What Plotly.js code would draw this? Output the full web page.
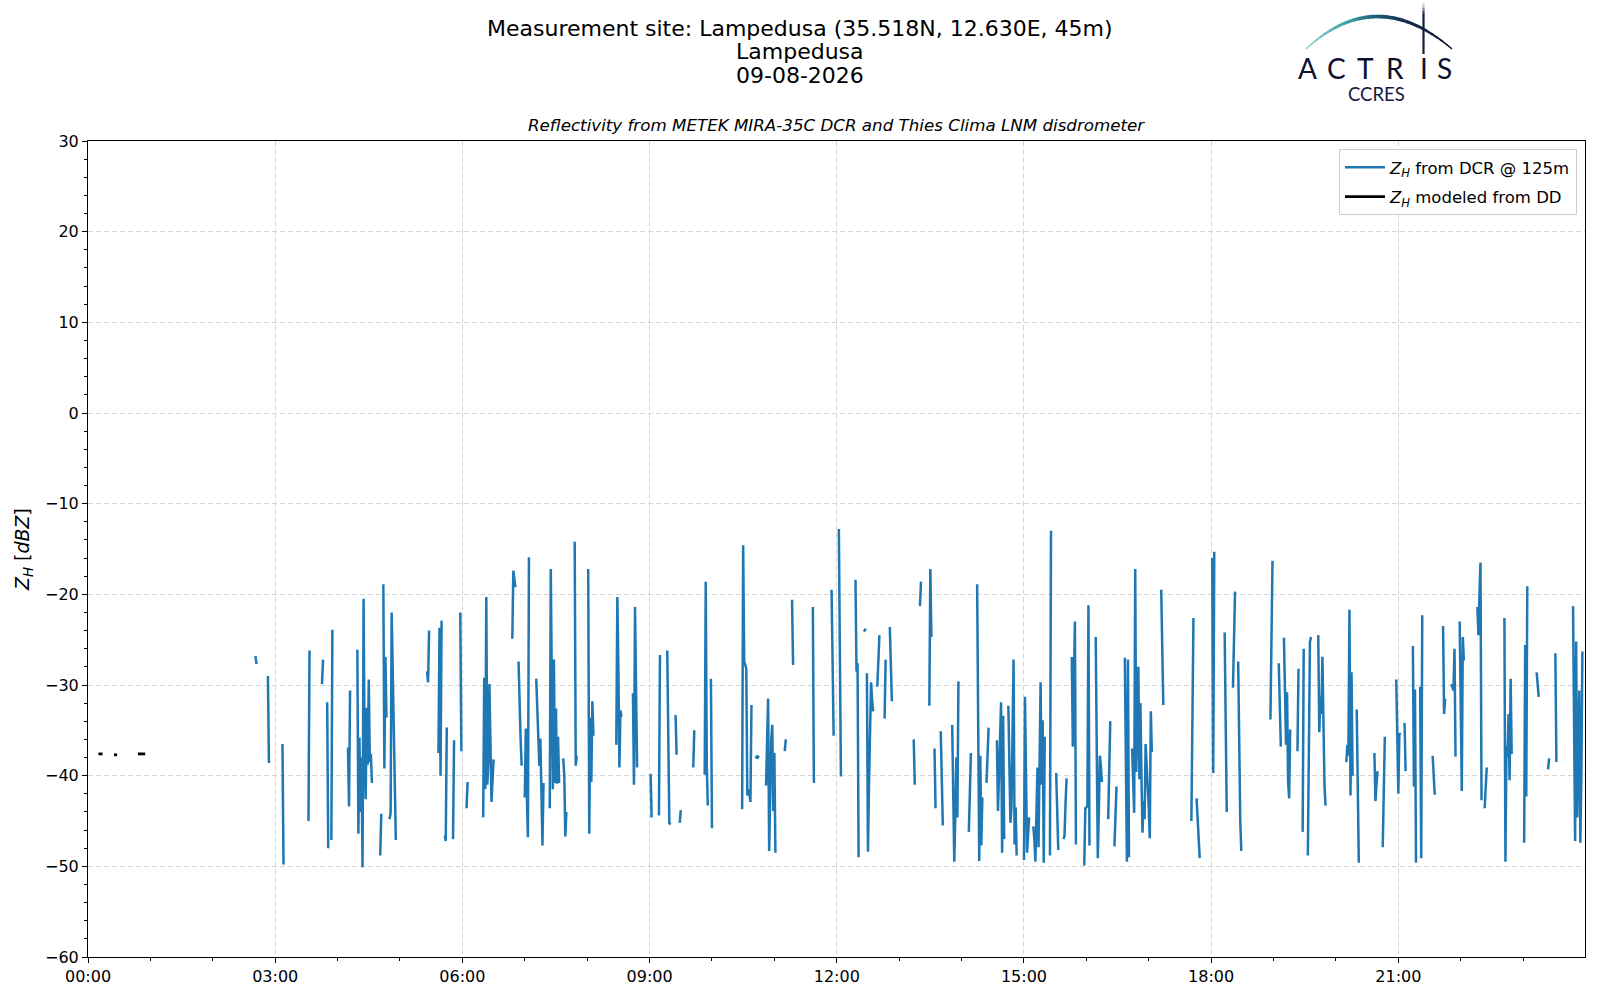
<!DOCTYPE html>
<html>
<head>
<meta charset="utf-8">
<script src="https://cdn.plot.ly/plotly-3.0.1.min.js"></script>
<style>
  html, body { margin: 0; padding: 0; background: #fff; }
  #chart { width: 1600px; height: 1000px; }
</style>
</head>
<body>
<div id="chart"></div>
<script>
// day of the measurements
var day = '2026-08-09';

// Z_H from the cloud radar at 125 m: each run starts at a minute of the day
var dcrStart = [161, 173, 187, 212, 225, 230, 234, 250, 259, 281, 284, 290,
  326, 337, 343, 351, 358, 364, 380, 408, 414, 420, 431, 444, 457, 468, 481,
  508, 524, 541, 549, 557, 565, 569, 582, 593, 599, 629, 642,
  652, 670, 677, 697, 715, 722, 738, 746, 749, 759, 766, 771, 794, 800, 809,
  814, 820, 831, 847, 855, 864, 874, 885, 900, 909, 925, 931, 938, 946, 958, 969,
  981, 987, 997, 1004, 1032, 1061, 1066, 1081, 1093, 1101, 1106,
  1137, 1145, 1150, 1163, 1168, 1173, 1183, 1210, 1220, 1237, 1245, 1258, 1266, 1274, 1281, 1293,
  1303, 1311, 1319, 1336, 1343, 1362, 1381, 1393, 1404, 1411, 1428];

// one value per minute for each run [dBZ]
var dcrZ = [
  [-26.8, -27.7],
  [-29.0, -38.6],
  [-36.5, -49.8],
  [-45.0, -26.2],
  [-29.9, -27.2],
  [-31.9, -48.0],
  [-47.1, -23.9],
  [-36.9, -43.4, -30.6],
  [-26.1, -46.4, -35.8, -44.0, -38.0, -50.1, -20.5, -38.0, -42.6, -32.5, -38.8, -29.4, -38.5, -37.6, -40.8],
  [-48.8, -44.2],
  [-18.9, -39.2, -26.9, -33.6],
  [-44.8, -44.1, -22.0, -28.0, -33.2, -40.0, -47.1],
  [-28.5, -29.7, -24.0],
  [-37.5, -23.7, -40.0, -22.9],
  [-46.6, -47.2, -34.7],
  [-47.0, -36.1],
  [-22.0, -37.3],
  [-43.6, -40.7],
  [-44.6, -29.2, -41.5, -20.3, -41.0, -38.2, -29.9, -38.2, -42.9, -40.5, -38.2],
  [-24.9, -17.4, -18.3, -19.2],
  [-27.4, -33.6, -36.0, -38.9],
  [-42.4, -34.8, -42.2, -46.8, -15.9],
  [-29.3, -33.0, -36.0, -38.9, -35.9, -42.0, -47.7, -40.8],
  [-43.6, -17.2, -30.0, -41.5, -27.2, -40.8, -32.6, -40.9, -35.7, -40.8],
  [-38.1, -40.0, -46.7, -44.0],
  [-14.2, -38.9, -37.8],
  [-17.2, -46.4, -33.6, -40.7, -31.8, -35.6],
  [-36.6, -20.3, -28.0, -39.1, -32.8, -33.5],
  [-30.9, -41.0, -21.4, -35.0, -39.1],
  [-39.8, -44.6],
  [-44.4, -26.7],
  [-26.2, -36.0, -45.2, -45.4],
  [-33.3, -37.7],
  [-45.2, -43.8],
  [-39.1, -35.0],
  [-39.9, -18.6, -38.9, -43.3],
  [-29.3, -45.8],
  [-43.7, -14.6, -27.4, -27.8, -28.2, -42.2, -41.5, -42.0, -42.9, -32.2],
  [-38.1, -37.9, -38.0, -37.8],
  [-41.1, -36.0, -31.5, -48.3, -38.9, -36.0, -34.4, -43.9, -37.5, -48.5],
  [-37.3, -36.0],
  [-20.6, -27.8],
  [-21.4, -40.8],
  [-19.5, -27.0, -35.6],
  [-12.8, -26.0, -40.1],
  [-18.4, -28.5, -27.6, -49.0],
  [-24.1, -23.9, -23.8],
  [-28.7, -48.4, -41.0, -35.5, -29.7, -31.6, -32.9],
  [-30.2, -27.0, -24.5],
  [-33.7, -27.2],
  [-23.6, -27.5, -31.8],
  [-36.0, -41.0],
  [-21.3, -18.6],
  [-32.3, -17.2, -24.7],
  [-37.0, -43.6],
  [-35.1, -40.0, -45.5],
  [-34.4, -42.0, -49.5, -44.4, -38.0, -44.6, -29.6],
  [-46.2, -42.0, -37.5],
  [-18.9, -40.0, -49.4, -37.8, -47.7, -42.4],
  [-40.8, -37.0, -34.7],
  [-36.1, -43.9, -40.0, -36.0, -31.9, -48.5, -33.4, -47.0],
  [-32.3, -40.0, -45.2, -43.5, -35.0, -27.2, -47.6, -43.5, -48.8],
  [-49.3, -31.3, -40.0, -48.5, -46.5, -44.6],
  [-45.6, -47.0, -49.5, -44.0, -39.1, -47.9, -38.0, -29.7, -41.0, -33.9, -49.6, -35.7],
  [-48.8, -13.0],
  [-39.7, -44.0, -48.2],
  [-47.0, -46.6, -43.0, -40.3],
  [-26.9, -36.8, -30.0, -23.0, -47.6],
  [-49.9, -43.6, -43.5, -43.3, -21.2, -47.7],
  [-24.7, -36.0, -49.1, -44.0, -37.8, -39.0, -40.7],
  [-44.8, -39.0, -34.0],
  [-47.8, -44.5, -41.2],
  [-27.0, -36.0, -49.5, -27.2, -49.0],
  [-37.0, -40.5, -44.1, -17.2, -39.6, -34.0, -28.0, -40.4, -32.0, -40.0, -46.3, -42.8, -44.8, -36.5, -38.5, -40.7, -43.5, -46.9, -32.9, -37.4],
  [-19.5, -26.0, -32.2],
  [-45.0, -34.0, -22.6],
  [-42.5, -45.0, -47.0, -49.1],
  [-16.0, -39.7, -15.3],
  [-24.2, -34.0, -44.0],
  [-30.3, -26.0, -19.7],
  [-27.4, -37.0, -45.0, -48.3],
  [-33.8, -25.0, -16.3],
  [-27.6, -32.0, -36.8],
  [-24.8, -30.0, -36.6, -30.8, -40.6, -42.5, -34.9],
  [-37.3, -28.2],
  [-46.2, -26.0],
  [-48.8, -37.0, -25.3, -24.7],
  [-24.5, -35.2, -31.3, -33.2, -26.9, -35.0, -41.1, -43.3],
  [-38.5, -36.6, -37.8, -21.7, -42.2, -28.6, -40.0],
  [-32.7, -41.0, -49.6],
  [-37.5, -42.8, -41.0, -39.5],
  [-47.9, -42.0, -35.7],
  [-29.4, -36.0, -42.0, -35.3, -35.5],
  [-34.2, -39.5],
  [-25.7, -41.2, -30.5, -49.6],
  [-30.2, -49.1, -22.3],
  [-37.8, -40.0, -42.1],
  [-23.5, -33.2, -31.5],
  [-29.9, -30.3, -30.6, -26.0, -37.9],
  [-23.0, -32.0, -41.7, -24.7, -27.3],
  [-21.4, -24.5, -20.0, -16.5, -42.7],
  [-43.6, -41.0, -39.1],
  [-22.6, -49.5, -36.7, -37.9, -33.2, -40.5, -29.3, -37.6],
  [-47.4, -25.6, -42.3, -19.1],
  [-28.6, -30.0, -31.3],
  [-39.3, -38.1],
  [-26.5, -38.5],
  [-21.3, -40.0, -47.2, -25.2, -44.6, -38.0, -30.6, -47.4, -40.0, -26.3]
];

// Z_H modeled from the disdrometer drop size distribution
var ddStart = [10, 25, 48];
var ddZ = [
  [-37.6, -37.6, -37.6, -37.6, -37.6],
  [-37.7, -37.7, -37.7, -37.7],
  [-37.6, -37.6, -37.6, -37.6, -37.6, -37.6, -37.6, -37.6]
];

var tickHours = [0, 3, 6, 9, 12, 15, 18, 21];

function pad(n) { return (n < 10 ? '0' : '') + n; }
function minToDate(m) {
  return day + ' ' + pad(Math.floor(m / 60)) + ':' + pad(m % 60);
}

// turn the runs into one line with gaps between them
function buildSeries(starts, vals) {
  var x = [], y = [];
  for (var i = 0; i < starts.length; i++) {
    for (var j = 0; j < vals[i].length; j++) {
      x.push(minToDate(starts[i] + j));
      y.push(vals[i][j]);
    }
    x.push(minToDate(starts[i] + vals[i].length));
    y.push(null);
  }
  return { x: x, y: y };
}

var dcr = buildSeries(dcrStart, dcrZ);
var dd = buildSeries(ddStart, ddZ);

var trace1 = {
  x: dcr.x, y: dcr.y,
  type: 'scatter', mode: 'lines',
  connectgaps: false,
  line: { color: '#1f77b4', width: 2.5 },
  legendgroup: 'dcr',
  name: '<i>Z</i><sub><i>H</i></sub> from DCR @ 125m'
};
var trace2 = {
  x: dd.x, y: dd.y,
  type: 'scatter', mode: 'lines',
  connectgaps: false,
  line: { color: '#000000', width: 2.8 },
  legendgroup: 'dd',
  name: '<i>Z</i><sub><i>H</i></sub> modeled from DD'
};

// plot box in pixels, used to place the header and logo
var L = 88, R = 1585, T = 141, B = 957;
function px(x) { return (x - L) / (R - L); }
function py(y) { return (B - y) / (B - T); }

var annotations = [
  { text: 'Measurement site: Lampedusa (35.518N, 12.630E, 45m)', y: 28.6 },
  { text: 'Lampedusa', y: 52 },
  { text: '09-08-2026', y: 75 }
].map(function (a) {
  return {
    text: a.text, xref: 'paper', yref: 'paper', x: px(800), y: py(a.y),
    xanchor: 'center', yanchor: 'middle', showarrow: false,
    font: { size: 22, color: '#000' }
  };
});

annotations.push({
  text: '<i>Reflectivity from METEK MIRA-35C DCR and Thies Clima LNM disdrometer</i>',
  xref: 'paper', yref: 'paper', x: 0.5, y: py(125.5),
  xanchor: 'center', yanchor: 'middle', showarrow: false,
  font: { size: 16.7, color: '#000' }
});

// logo letters
var logoLetters = ['A', 'C', 'T', 'R', 'I', 'S'];
var logoX = [1307.5, 1336, 1365, 1395, 1423.5, 1444.5];
logoLetters.forEach(function (c, i) {
  annotations.push({
    text: c, xref: 'paper', yref: 'paper', x: px(logoX[i]), y: py(68),
    xanchor: 'center', yanchor: 'middle', showarrow: false,
    font: { family: 'Lato', size: 28, color: '#0c1030' }
  });
});
annotations.push({
  text: 'CCRES', xref: 'paper', yref: 'paper', x: px(1376), y: py(94),
  xanchor: 'center', yanchor: 'middle', showarrow: false,
  font: { family: 'Lato', size: 18.5, color: '#141a40' }
});

// logo arc with a colour fade, drawn in short pieces
var shapes = [];
var stops = [[0, [143, 214, 204]], [0.3, [59, 159, 168]], [0.5, [30, 90, 120]], [0.7, [20, 42, 78]], [1, [14, 19, 48]]];
function fade(t) {
  for (var k = 1; k < stops.length; k++) {
    if (t <= stops[k][0]) {
      var a = stops[k - 1], b = stops[k];
      var f = (t - a[0]) / (b[0] - a[0]);
      var c = a[1].map(function (v, n) { return Math.round(v + (b[1][n] - v) * f); });
      return 'rgb(' + c.join(',') + ')';
    }
  }
  return 'rgb(14,19,48)';
}
var P0 = [1306, 49], P1 = [1376, -16], P2 = [1452, 49];
function bez(t) {
  var u = 1 - t;
  return [u * u * P0[0] + 2 * u * t * P1[0] + t * t * P2[0],
          u * u * P0[1] + 2 * u * t * P1[1] + t * t * P2[1]];
}
var nSeg = 30;
for (var s = 0; s < nSeg; s++) {
  var t0 = s / nSeg, t1 = (s + 1.15) / nSeg;
  if (t1 > 1) t1 = 1;
  var a = bez(t0), b = bez((t0 + t1) / 2), c = bez(t1);
  shapes.push({
    type: 'path', xref: 'paper', yref: 'paper',
    path: 'M' + px(a[0]) + ',' + py(a[1]) + ' L' + px(b[0]) + ',' + py(b[1]) + ' L' + px(c[0]) + ',' + py(c[1]),
    line: { color: fade((t0 + t1) / 2), width: 1.3 + 2.4 * Math.sin(Math.PI * (t0 + t1) / 2) }
  });
}
// vertical stroke of the logo, fading out at the top
var vCols = ['#e6e7ee', '#b9bccd', '#7d829e', '#3f4566', '#141a3c'];
for (var v = 0; v < vCols.length; v++) {
  shapes.push({
    type: 'line', xref: 'paper', yref: 'paper',
    x0: px(1423.5), x1: px(1423.5), y0: py(2 + v * 3), y1: py(v === vCols.length - 1 ? 54 : 5.5 + v * 3),
    line: { color: vCols[v], width: 2.2 }
  });
}

var axisCommon = {
  showline: true, linecolor: '#000', linewidth: 1, mirror: true,
  ticks: 'outside', ticklen: 5, tickwidth: 1, tickcolor: '#000',
  tickfont: { size: 16, color: '#000' },
  showgrid: true, gridcolor: '#d6d6d6', gridwidth: 1, griddash: '5px,3px',
  zeroline: false
};

var layout = {
  width: 1600,
  height: 1000,
  margin: { l: L, r: 1600 - R, t: T, b: 1000 - B, pad: 0 },
  paper_bgcolor: '#fff',
  plot_bgcolor: '#fff',
  font: { family: 'DejaVu Sans', color: '#000' },
  showlegend: true,
  legend: {
    x: 1 - 8 / (R - L), y: 1 - 8 / (B - T), xanchor: 'right', yanchor: 'top',
    bgcolor: 'rgba(255,255,255,0.85)', bordercolor: '#cccccc', borderwidth: 1,
    tracegroupgap: 5, itemwidth: 40,
    font: { size: 16.5, color: '#000' }
  },
  xaxis: Object.assign({}, axisCommon, {
    type: 'date',
    range: [day + ' 00:00', day + ' 23:59:30'],
    tickmode: 'array',
    tickvals: tickHours.map(function (h) { return minToDate(h * 60); }),
    ticktext: tickHours.map(function (h) { return pad(h) + ':00'; }),
    minor: { tickmode: 'linear', tick0: day + ' 00:00', dtick: 3600000, ticks: 'outside', ticklen: 3, tickcolor: '#000', showgrid: false }
  }),
  yaxis: Object.assign({}, axisCommon, {
    range: [-60, 30],
    tick0: 0, dtick: 10,
    minor: { tick0: 0, dtick: 2, ticks: 'outside', ticklen: 3, tickcolor: '#000', showgrid: false },
    title: { text: '<i>Z</i><sub><i>H</i></sub> [<i>dBZ</i>]', font: { size: 19, color: '#000' }, standoff: 10 }
  }),
  annotations: annotations,
  shapes: shapes
};

Plotly.newPlot('chart', [trace1, trace2], layout, { displayModeBar: false, staticPlot: true });
</script>
</body>
</html>
